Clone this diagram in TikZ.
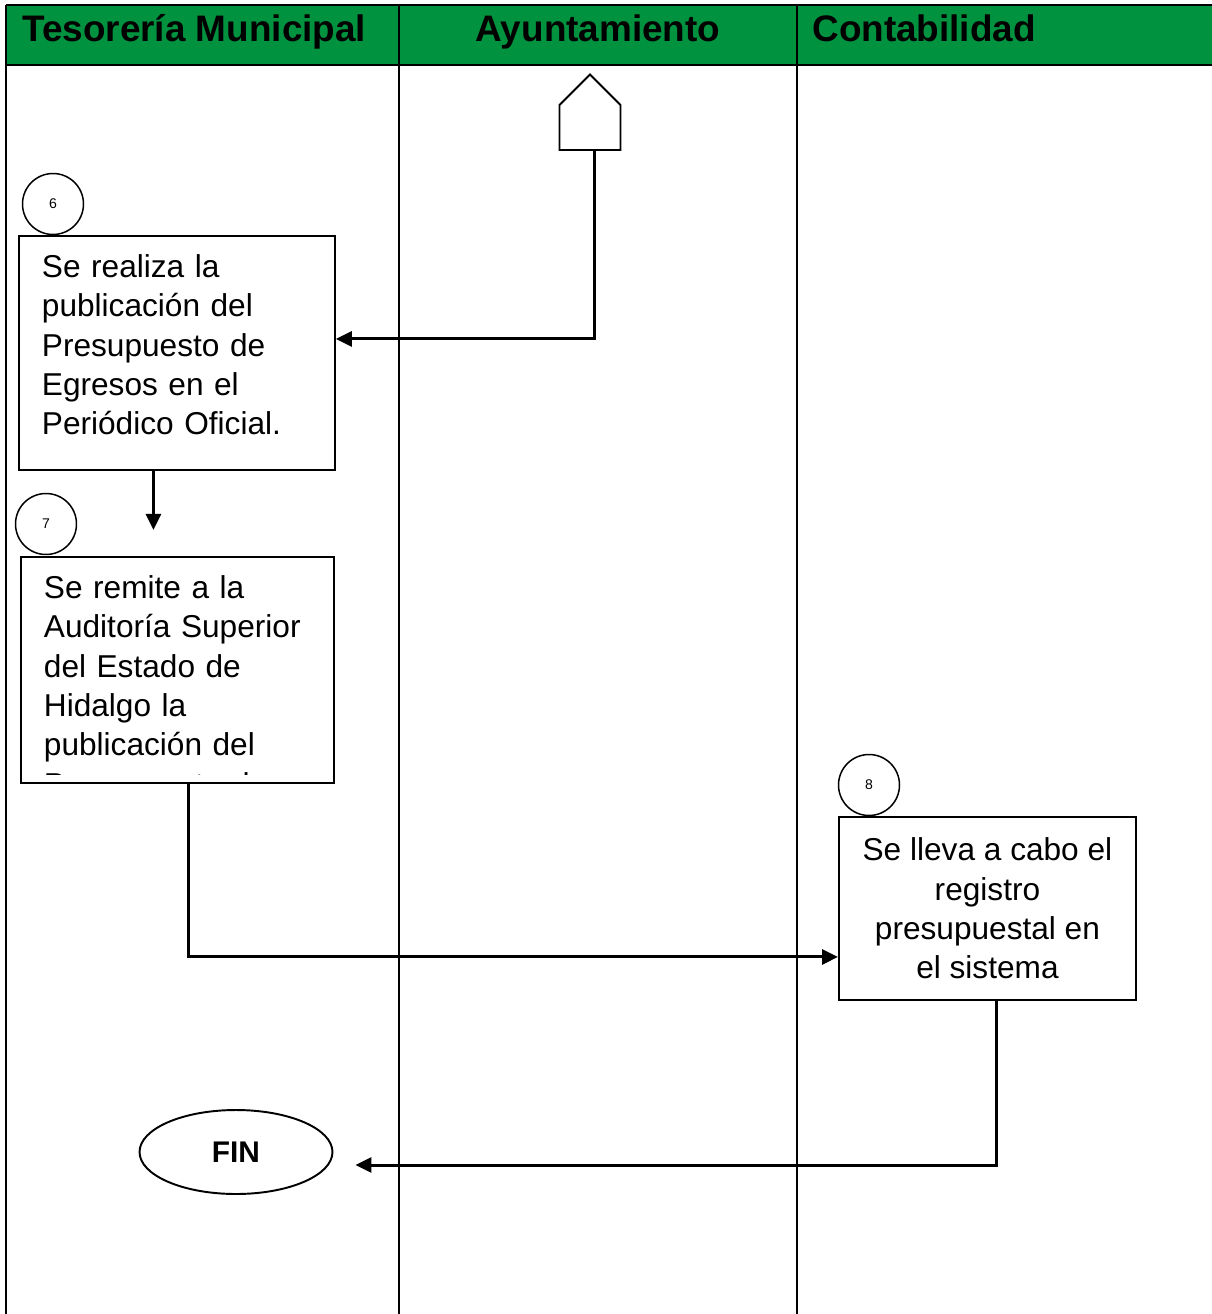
\documentclass[tikz,border=0pt]{standalone}
\usepackage{fontspec}
\setmainfont{Liberation Sans}
\usetikzlibrary{arrows.meta,shapes.geometric,shapes.symbols}

\definecolor{headgreen}{RGB}{0,146,63}

\begin{document}
\begin{tikzpicture}[x=0.02cm,y=-0.02cm,
  lane/.style={line width=1.2pt},
  flow/.style={line width=1.7pt,-{Triangle[length=0.32cm,width=0.3cm]}},
  title/.style={font=\fontsize{21}{25}\selectfont\bfseries,inner sep=0pt},
  stepbox/.style={draw,line width=1.1pt,anchor=north west,inner sep=0pt},
  % texto arriba a la izquierda, recortado por el margen interior de la caja
  steptext/.style={path picture={
    \clip (path picture bounding box.north west) rectangle ([yshift=0.16cm]path picture bounding box.south east);
    \node[anchor=north west,inner sep=0pt,minimum width=0pt,minimum height=0pt,text width=5.6cm,align=left,
      font=\fontsize{18}{22.4}\selectfont] at ([shift={(0.44cm,-0.35cm)}]path picture bounding box.north west) {#1};}},
  stepnum/.style={draw,circle,line width=0.85pt,minimum size=1.22cm,inner sep=0pt,font=\fontsize{8}{9}\selectfont},
  ]
\useasboundingbox (0,0) rectangle (1212,1314);
% encabezado y carriles
\fill[headgreen] (6,5) rectangle (1212,65);
\draw[lane] (6,5) -- (1212,5);
\draw[line width=1.6pt] (6,65) -- (1212,65);
\foreach \x in {6,399,797}
  \draw[lane] (\x,5) -- (\x,1314);
\node[title,anchor=base west] (tesoreria) at (22,42) {Tesorería Municipal};
\node[title,anchor=base] (ayuntamiento) at (598,42) {Ayuntamiento};
\node[title,anchor=base west] (contabilidad) at (812,42) {Contabilidad};

% conector de pagina
\node[draw,signal,signal to=north,signal pointer angle=90,line width=1.1pt,
  minimum width=1.22cm,minimum height=0.9cm,inner sep=0pt] (ayto) at (590,127.5) {};

% pasos
\node[stepnum] (n6) at (53,204) {6};
\node[stepbox,minimum width=6.32cm,minimum height=4.68cm,
  steptext={Se realiza la\\publicación del\\Presupuesto de\\Egresos en el\\Periódico Oficial.}] (paso6) at (18,235) {};

\node[stepnum] (n7) at (46,524) {7};
\node[stepbox,minimum width=6.26cm,minimum height=4.52cm,
  steptext={Se remite a la\\Auditoría Superior\\del Estado de\\Hidalgo la\\publicación del\\Presupuesto de\\Egresos.}] (paso7) at (20,556) {};

\node[stepnum] (n8) at (869,785) {8};
\node[stepbox,minimum width=5.94cm,minimum height=3.66cm,align=center,
  font=\fontsize{18}{22.4}\selectfont] (paso8) at (838,816)
  {Se lleva a cabo el\\registro\\presupuestal en\\el sistema};

\node[draw,ellipse,line width=1.1pt,minimum width=3.86cm,minimum height=1.68cm,
  font=\fontsize{17}{20}\selectfont\bfseries] (fin) at (236,1152) {FIN};

% flujo
\draw[flow] ([xshift=0.08cm]ayto.south) |- ([yshift=0.28cm]paso6.east);
\draw[flow] ([xshift=-0.47cm]paso6.south) -- ++(0,59);
\draw[flow] ([xshift=0.23cm]paso7.south) |- ([yshift=-0.97cm]paso8.west);
\draw[flow] ([xshift=0.19cm]paso8.south) |- ([xshift=0.44cm,yshift=-0.26cm]fin.east);
\end{tikzpicture}
\end{document}
